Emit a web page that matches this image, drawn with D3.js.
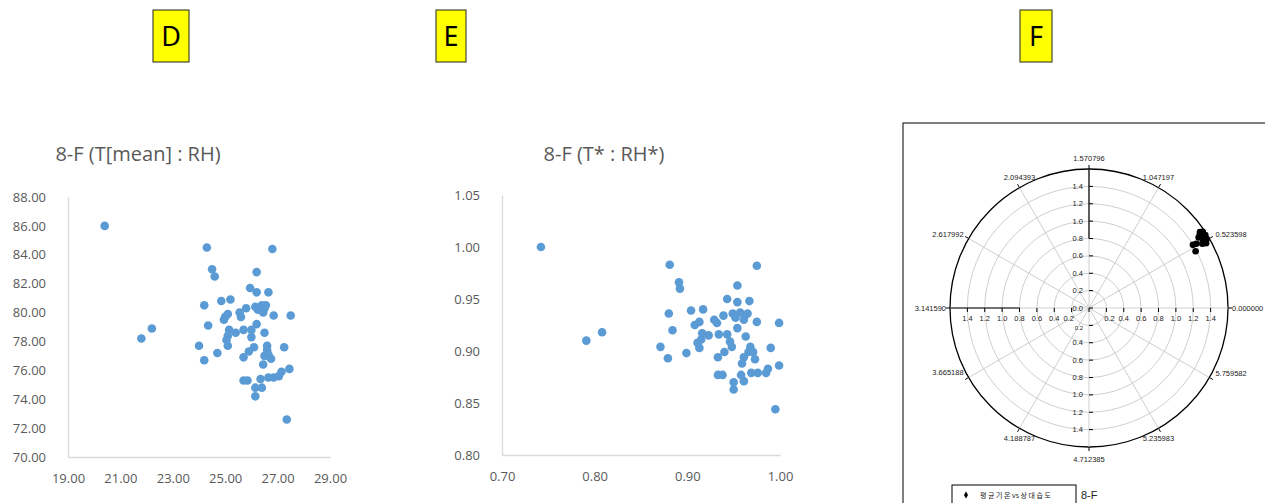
<!DOCTYPE html>
<html><head><meta charset="utf-8">
<script src="https://cdn.jsdelivr.net/npm/d3@7/dist/d3.min.js"></script>
<style>body{margin:0;background:#fff;}svg{display:block;}</style>
</head><body>
<svg id="c" width="1265" height="503"></svg>
<script>
// ---------- DATA ----------
const panelLetters = ["D", "E", "F"];
const titleD = "8-F (T[mean] : RH)";
const titleE = "8-F (T* : RH*)";

const dX = [20.4,21.8,22.2,24.3,26.8,24.5,24.6,26.2,25.95,26.2,26.65,24.2,24.85,25.2,24.0,24.2,24.35,24.7,24.95,25.1,25.0,25.15,25.1,25.05,25.1,25.4,25.55,25.6,25.8,25.7,26.0,26.0,26.1,25.9,25.7,25.7,25.85,26.15,26.25,26.4,26.5,26.55,26.45,26.2,26.5,26.85,27.5,26.6,26.6,26.65,26.45,26.75,26.5,27.25,27.45,27.15,27.05,26.85,26.65,26.35,26.15,26.4,26.15,27.35];
const dY = [86.0,78.2,78.9,84.5,84.4,83.0,82.5,82.8,81.7,81.4,81.4,80.5,80.8,80.9,77.7,76.7,79.1,77.2,79.5,79.9,79.7,78.8,78.4,78.1,77.7,78.6,80.0,79.7,80.3,78.8,78.8,78.3,77.6,77.3,76.9,75.3,75.3,80.4,80.2,80.5,80.3,80.5,80.0,79.2,78.6,79.8,79.8,77.7,77.4,77.1,76.4,76.8,77.0,77.6,76.1,75.9,75.6,75.5,75.5,75.4,74.8,74.8,74.2,72.6];
const dXTicks = [19, 21, 23, 25, 27, 29];
const dYTicks = [70, 72, 74, 76, 78, 80, 82, 84, 86, 88];

const eX = [0.742,0.791,0.808,0.881,0.975,0.891,0.892,0.954,0.943,0.954,0.967,0.880,0.884,0.904,0.917,0.871,0.879,0.899,0.908,0.913,0.916,0.911,0.913,0.915,0.923,0.929,0.932,0.939,0.934,0.943,0.946,0.948,0.940,0.933,0.933,0.938,0.949,0.952,0.957,0.962,0.965,0.961,0.954,0.963,0.975,0.999,0.968,0.966,0.961,0.959,0.973,0.990,0.999,0.987,0.985,0.976,0.969,0.958,0.950,0.961,0.950,0.995,0.971];
const eY = [1.000,0.910,0.918,0.983,0.982,0.966,0.960,0.963,0.950,0.947,0.948,0.936,0.920,0.939,0.940,0.904,0.893,0.898,0.925,0.928,0.917,0.908,0.903,0.911,0.915,0.930,0.927,0.934,0.916,0.916,0.909,0.904,0.899,0.894,0.877,0.877,0.936,0.932,0.937,0.934,0.936,0.930,0.922,0.914,0.928,0.927,0.904,0.899,0.894,0.888,0.892,0.903,0.886,0.883,0.879,0.879,0.879,0.877,0.870,0.871,0.863,0.844,0.899];
const eXTicks = [0.70, 0.80, 0.90, 1.00];
const eYTicks = [0.80, 0.85, 0.90, 0.95, 1.00, 1.05];

const fTheta = [0.600,0.555,0.530,0.525,0.571,0.505,0.539,0.546,0.489,0.590,0.560,0.585,0.540,0.515,0.575];
const fR     = [1.548,1.560,1.570,1.516,1.500,1.540,1.440,1.400,1.390,1.575,1.580,1.530,1.555,1.500,1.525];
const fRadialTicks = [0.2,0.4,0.6,0.8,1.0,1.2,1.4,1.6];
const fRadialLabels = [0.0,0.2,0.4,0.6,0.8,1.0,1.2,1.4];
const fAngleLabels = ["0.000000","0.523598","1.047197","1.570796","2.094393","2.617992","3.141590","3.665188","4.188787","4.712385","5.235983","5.759582"];
const fLegend = "평 균 기 온 vs 상 대 습 도";
const fLegendName = "8-F";

// ---------- DRAW ----------
const svg = d3.select("#c");
const grayText = "#595959";
const blue = "#5b9bd5";

// letter boxes
const boxes = [{x:153,w:36},{x:436,w:30},{x:1020,w:32}];
boxes.forEach((b,i)=>{
  svg.append("rect").attr("x",b.x).attr("y",10).attr("width",b.w).attr("height",52)
    .attr("fill","#ffff00").attr("stroke","#222").attr("stroke-width",1);
  svg.append("text").attr("x",b.x+b.w/2).attr("y",46).attr("text-anchor","middle")
    .attr("font-family","'Noto Sans', sans-serif").attr("font-size",27).attr("fill","#000")
    .text(panelLetters[i]);
});

function scatter(cfg){
  const x = d3.scaleLinear().domain(cfg.xd).range(cfg.xr);
  const y = d3.scaleLinear().domain(cfg.yd).range(cfg.yr);
  const g = svg.append("g");
  g.append("text").attr("x",cfg.tx).attr("y",161).attr("text-anchor","middle")
    .attr("font-family","'Open Sans', sans-serif").attr("font-size",20).attr("fill",grayText).text(cfg.title);
  const xa = d3.axisBottom(x).tickValues(cfg.xt).tickSize(0).tickPadding(17).tickFormat(d3.format(".2f"));
  const ya = d3.axisLeft(y).tickValues(cfg.yt).tickSize(0).tickPadding(22).tickFormat(d3.format(".2f"));
  const gx = g.append("g").attr("transform",`translate(0,${cfg.yr[0]})`).call(xa);
  const gy = g.append("g").attr("transform",`translate(${cfg.xr[0]},0)`).call(ya);
  [gx,gy].forEach(a=>{
    a.select(".domain").attr("stroke","#d9d9d9").attr("stroke-width",1.3);
    a.selectAll("text").attr("font-family","'Open Sans', sans-serif").attr("font-size",13).attr("fill",grayText);
  });
  g.selectAll("circle.p").data(cfg.xs.map((v,i)=>[v,cfg.ys[i]])).enter().append("circle")
    .attr("cx",d=>x(d[0])).attr("cy",d=>y(d[1])).attr("r",4.3).attr("fill",blue);
}
scatter({xd:[19,29],xr:[68,330],yd:[70,88],yr:[457,197],xt:dXTicks,yt:dYTicks,xs:dX,ys:dY,title:titleD,tx:138});
scatter({xd:[0.7,1.0],xr:[502,780],yd:[0.8,1.05],yr:[455,195],xt:eXTicks,yt:eYTicks,xs:eX,ys:eY,title:titleE,tx:604});

// ---------- POLAR ----------
svg.append("rect").attr("x",903).attr("y",123).attr("width",400).attr("height",420)
  .attr("fill","none").attr("stroke","#000").attr("stroke-width",1);
const cx = 1089, cy = 308, R = 139;
const r = d3.scaleLinear().domain([0,1.6]).range([0,R]);
const pg = svg.append("g").attr("transform",`translate(${cx},${cy})`);
const gridC = "#c8c8c8";
// rings
pg.selectAll("circle.ring").data(fRadialTicks).enter().append("circle")
  .attr("r",d=>r(d)).attr("fill","none")
  .attr("stroke",d=>d===1.6?"#000":gridC).attr("stroke-width",d=>d===1.6?1.3:0.9);
// spokes
const angles = fAngleLabels.map(s=>+s);
pg.selectAll("line.spoke").data(angles).enter().append("line")
  .attr("x1",0).attr("y1",0)
  .attr("x2",a=>r(1.6)*Math.cos(a)).attr("y2",a=>-r(1.6)*Math.sin(a))
  .attr("stroke",gridC).attr("stroke-width",0.9);
// black axes segments
pg.append("line").attr("x1",0).attr("x2",0).attr("y1",-r(0.8)).attr("y2",-r(1.6)).attr("stroke","#000").attr("stroke-width",1.2);
pg.append("line").attr("y1",0).attr("y2",0).attr("x1",-r(0.8)).attr("x2",-r(1.6)).attr("stroke","#000").attr("stroke-width",1.2);
// outer angle ticks
pg.selectAll("line.at").data(angles).enter().append("line")
  .attr("x1",a=>r(1.6)*Math.cos(a)).attr("y1",a=>-r(1.6)*Math.sin(a))
  .attr("x2",a=>(r(1.6)+4)*Math.cos(a)).attr("y2",a=>-(r(1.6)+4)*Math.sin(a))
  .attr("stroke","#000").attr("stroke-width",1);
// angle labels
const lf = "'Liberation Sans', Arial, sans-serif";
pg.selectAll("text.al").data(fAngleLabels).enter().append("text")
  .attr("font-family",lf).attr("font-size",7.5).attr("fill","#222")
  .each(function(s){
    const a = +s, px = r(1.6)*Math.cos(a), py = -r(1.6)*Math.sin(a);
    const deg = Math.round(a*180/Math.PI);
    let x=px, y=py, anchor="middle";
    if (deg===0){x=px+4;y=py+3;anchor="start";}
    else if (deg===180){x=px-4;y=py+3;anchor="end";}
    else if (deg===90){y=py-8;}
    else if (deg===270){y=py+15;}
    else if (deg===60||deg===120){y=py-8;}
    else if (deg===240||deg===300){y=py+13;}
    else if (deg===30||deg===330){x=px+6;y=py-2;anchor="start";}
    else {x=px-5;y=py-2;anchor="end";}
    d3.select(this).attr("x",x).attr("y",y).attr("text-anchor",anchor).text(s);
  });
// radial labels on vertical and horizontal axes
[-1,1].forEach(sgn=>{
  const vals = fRadialLabels.filter(v=>sgn<0||v>0);
  pg.selectAll(null).data(vals).enter().append("line")
    .attr("x1",0).attr("x2",4).attr("y1",v=>sgn*r(v)).attr("y2",v=>sgn*r(v)).attr("stroke","#000");
  pg.selectAll(null).data(vals).enter().append("text")
    .attr("x",-6).attr("y",v=>sgn*r(v)+(sgn>0&&v===0.2?4.5:2.5)).attr("text-anchor","end")
    .attr("font-family",lf).attr("font-size",v=>(sgn>0&&v===0.2)?6:7.5).attr("fill","#222").text(v=>v.toFixed(1));
  pg.selectAll(null).data(vals).enter().append("line")
    .attr("y1",0).attr("y2",4).attr("x1",v=>sgn*r(v)).attr("x2",v=>sgn*r(v)).attr("stroke","#000");
  pg.selectAll(null).data(vals.filter(v=>!(sgn<0&&v===0))).enter().append("text")
    .attr("y",13).attr("x",v=>sgn*(r(v)+(v===0.2?3:0))).attr("text-anchor","middle")
    .attr("font-family",lf).attr("font-size",7.5).attr("fill","#222").text(v=>v.toFixed(1));
});
// points
pg.selectAll("circle.pt").data(fTheta.map((t,i)=>[t,fR[i]])).enter().append("circle")
  .attr("r",3.3)
  .attr("cx",d=>r(d[1])*Math.cos(d[0])).attr("cy",d=>-r(d[1])*Math.sin(d[0]))
  .attr("fill","#000");
// legend
svg.append("rect").attr("x",952).attr("y",485).attr("width",124).attr("height",30)
  .attr("fill","#fff").attr("stroke","#000").attr("stroke-width",1);
svg.append("path").attr("d",d3.symbol().type(d3.symbolDiamond).size(14)).attr("transform","translate(966,495)").attr("fill","#000");
svg.append("text").attr("x",980).attr("y",498).attr("font-family","'Noto Sans CJK KR', sans-serif")
  .attr("font-size",7).attr("fill","#222").text(fLegend);
svg.append("text").attr("x",1081).attr("y",499).attr("font-family","'Liberation Sans', Arial, sans-serif")
  .attr("font-size",11).attr("fill","#222").text(fLegendName);
</script>
</body></html>
